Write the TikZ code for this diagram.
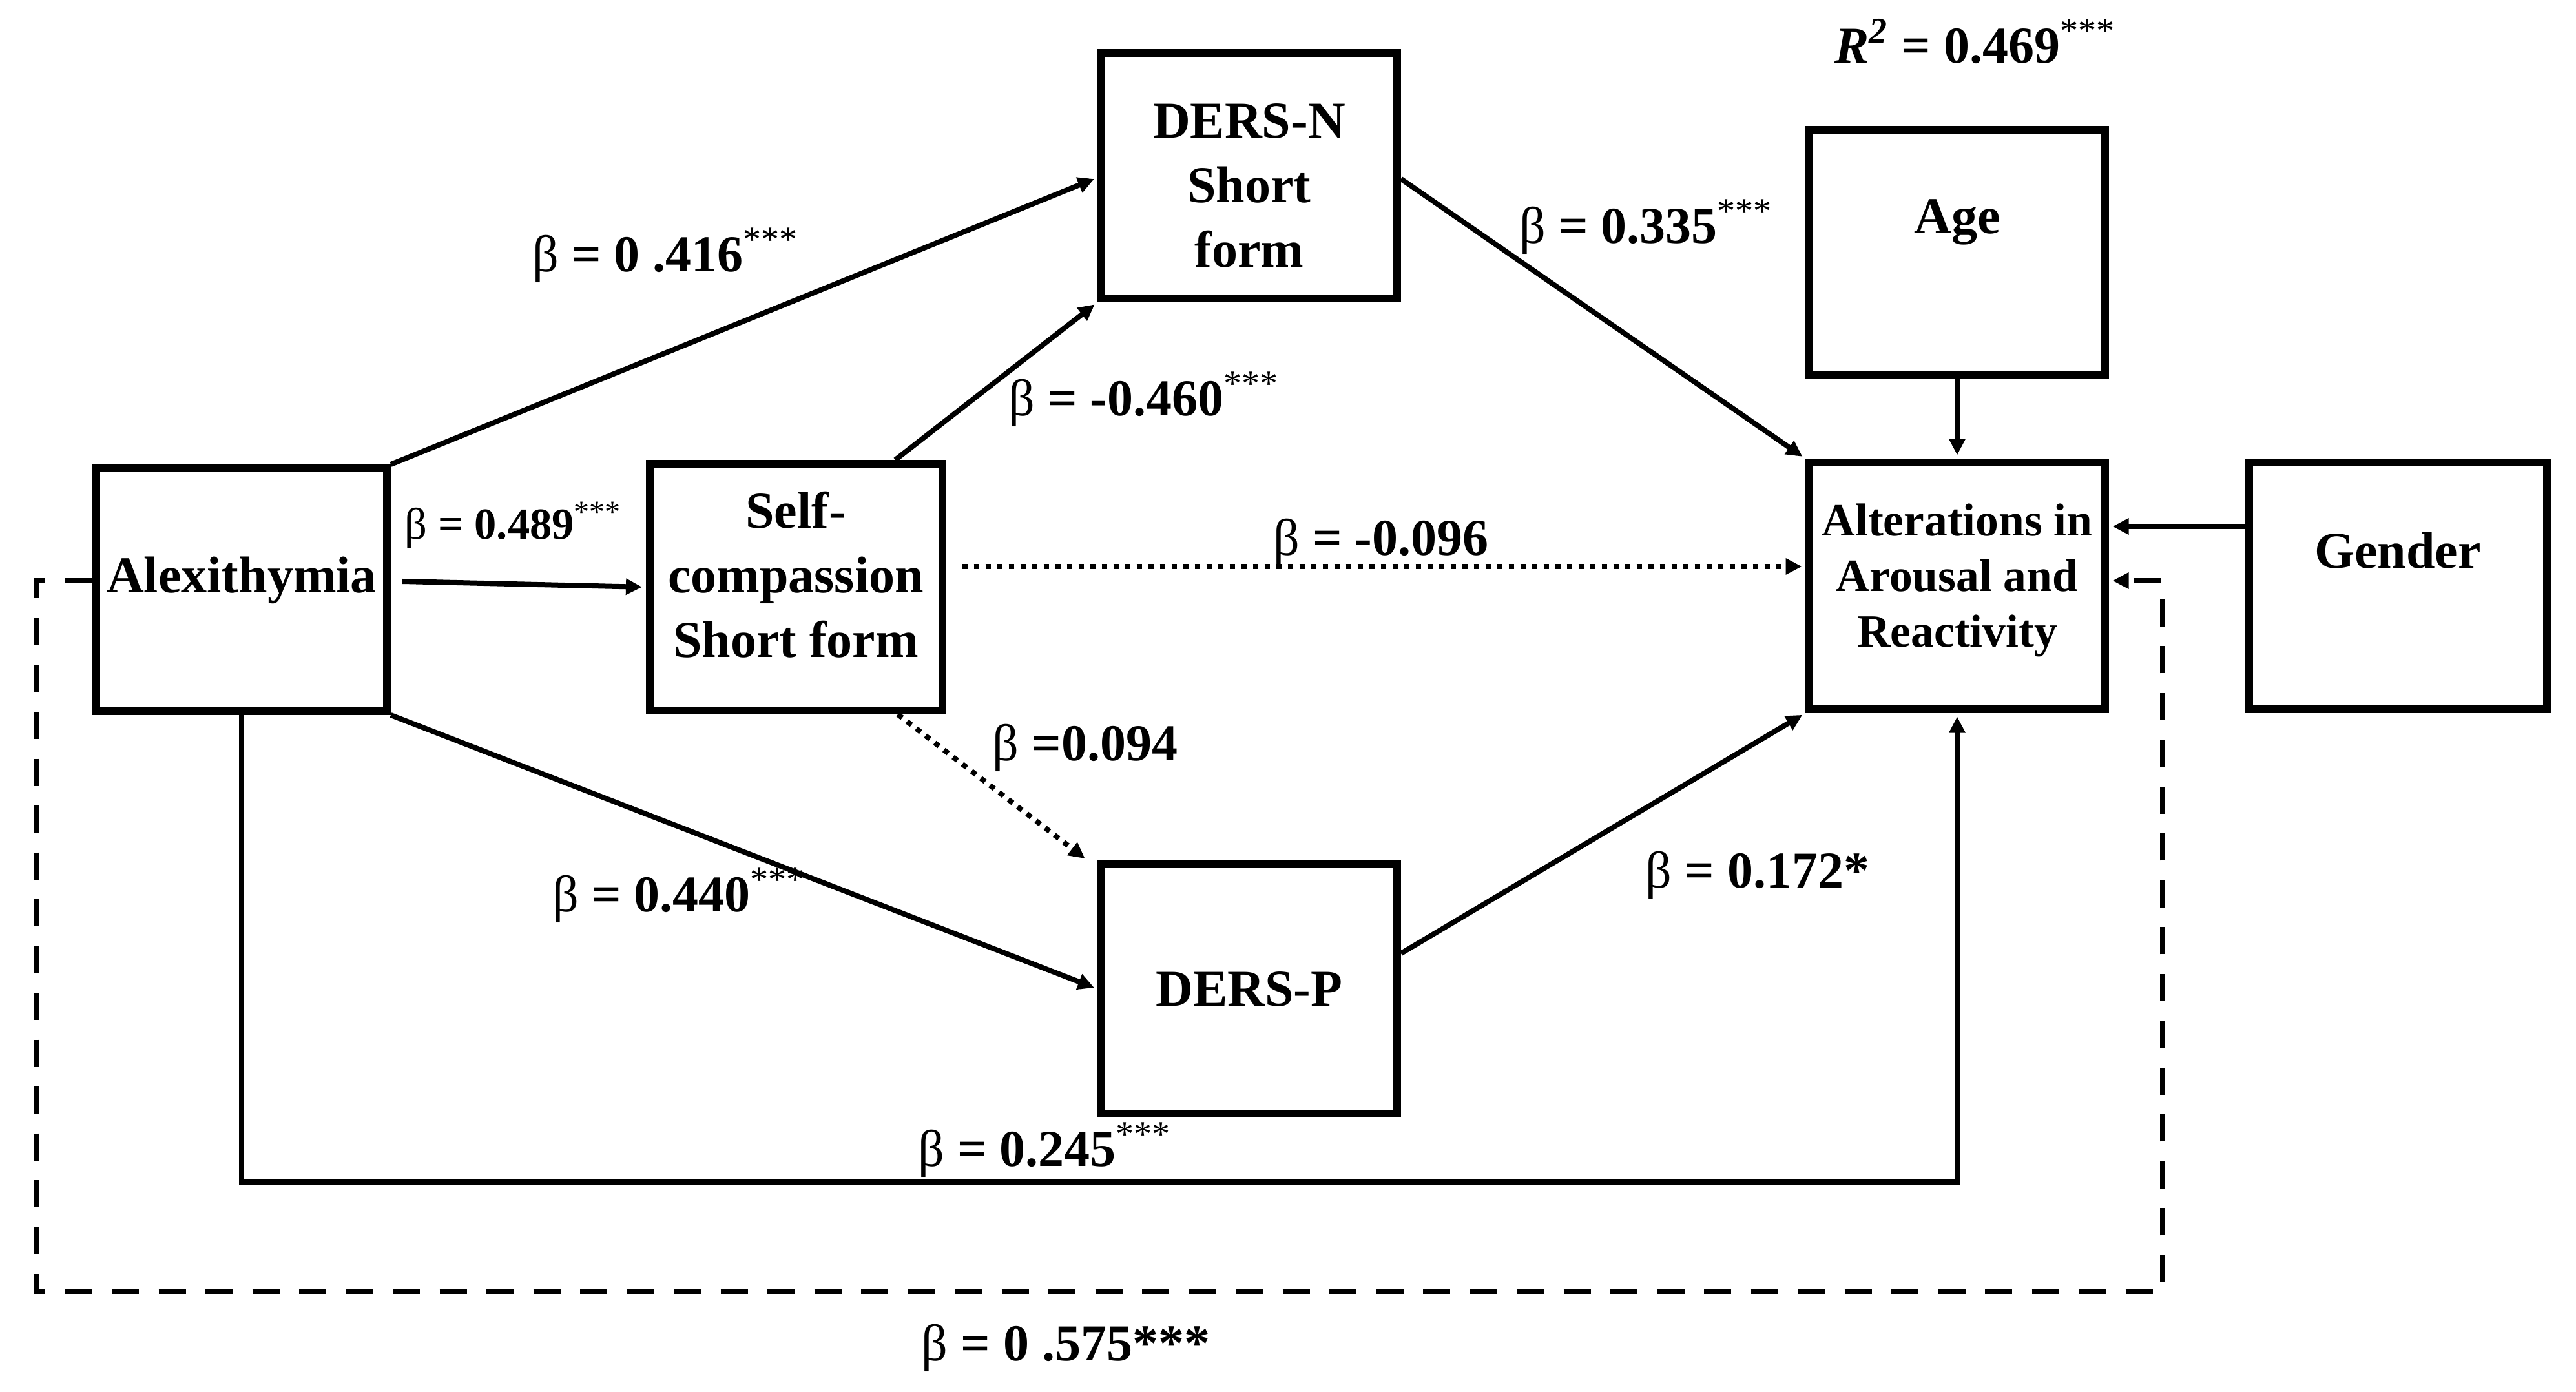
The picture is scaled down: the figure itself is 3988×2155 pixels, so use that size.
\documentclass[tikz,border=0pt]{standalone}
\usepackage{fontspec}
\setmainfont{Liberation Serif}
\usetikzlibrary{arrows.meta,calc}
\newcommand{\bt}{{\mdseries β}}
\newcommand{\sig}{\textsuperscript{\mdseries ***}}
\begin{document}
\begin{tikzpicture}[x=0.2pt,y=-0.2pt,
  box/.style={draw, line width=2.4pt, inner sep=0pt, minimum width=91.6pt, minimum height=76.4pt},
  boxtext/.style={font=\bfseries\fontsize{16pt}{20pt}\selectfont, align=center, inner sep=0pt},
  smalltext/.style={font=\bfseries\fontsize{14.3pt}{17.2pt}\selectfont, align=center, inner sep=0pt},
  lab/.style={font=\bfseries\fontsize{16pt}{19pt}\selectfont, inner sep=0pt},
  tip/.style={-{Triangle[length=5pt,width=4.8pt]}, shorten >=1.1pt},
  arr/.style={line width=1.6pt, tip},
  thinarr/.style={line width=1.5pt, tip},
  dotarr/.style={line width=1.6pt, dash pattern=on 1.7pt off 1.9pt, tip},
  dasharr/.style={line width=1.7pt, dash pattern=on 8.4pt off 6.1pt, tip}
]
\useasboundingbox (0,0) rectangle (3988,2155);

% boxes
\node[box, minimum width=90pt, minimum height=75.2pt] (alex) at (374,913) {};
\node[box, minimum width=90.6pt] (self) at (1232,909) {};
\node[box, minimum height=76pt] (dersn) at (1934,272) {};
\node[box, minimum height=77pt] (dersp) at (1934,1531) {};
\node[box] (alter) at (3030,907) {};
\node[box, minimum height=76pt] (age) at (3030,391) {};
\node[box, minimum width=92.2pt] (gender) at (3712,907) {};

% box texts
\node[boxtext] (talex) at (374,898) {Alexithymia};
\node[boxtext] (tself) at (1232,890) {Self-\\compassion\\Short form};
\node[boxtext] (tdersn) at (1934,287) {DERS-N\\Short\\form};
\node[boxtext] (tdersp) at (1934,1531) {DERS-P};
\node[smalltext] (talter) at (3030,898) {Alterations in\\Arousal and\\Reactivity};
\node[boxtext] (tage) at (3030,344) {Age};
\node[boxtext] (tgender) at (3712,852) {Gender};

% labels
\node[lab] (l416) at (1031,395) {\bt{} = 0 .416\sig};
\node[lab, font=\bfseries\fontsize{13.7pt}{16pt}\selectfont] (l489) at (795,813) {\bt{} = 0.489\sig};
\node[lab] (l460) at (1771,618) {\bt{} = -0.460\sig};
\node[lab] (l335) at (2549,351) {\bt{} = 0.335\sig};
\node[lab] (l096) at (2138,840) {\bt{} = -0.096};
\node[lab] (l094) at (1680,1158) {\bt{} =0.094};
\node[lab] (l440) at (1052,1386) {\bt{} = 0.440\sig};
\node[lab] (l172) at (2721,1355) {\bt{} = 0.172*};
\node[lab] (l245) at (1618,1780) {\bt{} = 0.245\sig};
\node[lab] (l575) at (1650,2087) {\bt{} = 0 .575***};
\node[lab] (r2) at (3058,64) {\textit{R\textsuperscript{2}} = 0.469\sig};

% connectors
\draw[arr] (alex.north east) -- ($(dersn.west)+(0,3)$);
\draw[arr] ($(alex.east)+(18,-13)$) -- (self.west);
\draw[arr] (alex.south east) -- (dersp.west);
\draw[arr] ($(self.north)+(154,0)$) -- (dersn.south west);
\draw[dotarr] ($(self.south)+(158,0)$) -- ($(dersp.north west)+(-15,0)$);
\draw[dotarr] ($(self.east)+(25,-32)$) -- ($(alter.west)+(0,-30)$);
\draw[arr] ($(dersn.east)+(0,5)$) -- (alter.north west);
\draw[arr] ($(dersp.east)+(0,-55)$) -- (alter.south west);
\draw[thinarr] (age.south) -- (alter.north);
\draw[arr] ($(gender.west)+(0,-92)$) -- ($(alter.east)+(0,-92)$);

\coordinate (bot) at (0,1830);
\draw[thinarr] (alex.south) -- (alex.south |- bot) -| (alter.south);

\coordinate (dl) at (56,899);
\coordinate (dbot) at (0,2000);
\coordinate (dr) at (3348,899);
\draw[dasharr] ($(alex.west)+(0,-14)$) -- (dl) -- (dl |- dbot) -- (dr |- dbot) -- (dr) -- ($(alter.east)+(0,-8)$);
\end{tikzpicture}
\end{document}
